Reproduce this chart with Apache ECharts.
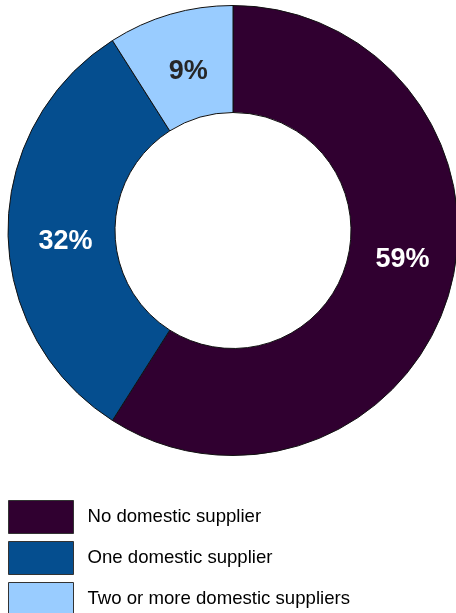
<!DOCTYPE html>
<html>
<head>
<meta charset="utf-8">
<script src="https://cdn.jsdelivr.net/npm/echarts@6/dist/echarts.min.js"></script>
<style>html,body{margin:0;padding:0;background:#fff;}#c{width:456px;height:613px;}</style>
</head>
<body>
<div id="c"></div>
<script>
var categories = ['No domestic supplier', 'One domestic supplier', 'Two or more domestic suppliers'];
var values = [59, 32, 9];
var colors = ['#300030', '#054E8F', '#99CCFF'];
var labelColors = ['#ffffff', '#ffffff', '#262626'];

var labelOffsets = [[2, -20], [7, 11], [4, 9]];
var legendTops = [500, 541, 582];

var chart = echarts.init(document.getElementById('c'), null, {renderer: 'canvas'});
var data = categories.map(function (name, i) {
  return {
    name: name,
    value: values[i],
    itemStyle: {color: colors[i]},
    label: {color: labelColors[i], offset: labelOffsets[i]}
  };
});
var legends = categories.map(function (name, i) {
  return {
    orient: 'vertical',
    left: 8,
    top: legendTops[i],
    padding: 0,
    itemWidth: 65,
    itemHeight: 33,
    icon: 'rect',
    selectedMode: false,
    itemStyle: {borderColor: '#333', borderWidth: 1},
    textStyle: {fontFamily: 'Liberation Sans, Arial', fontSize: 18.6, color: '#000', padding: [0, 0, 0, 9]},
    data: [name]
  };
});
chart.setOption({
  animation: false,
  legend: legends,
  series: [{
    type: 'pie',
    center: [233, 230.5],
    radius: [118, 225],
    startAngle: 90,
    clockwise: true,
    avoidLabelOverlap: false,
    itemStyle: {borderColor: '#111', borderWidth: 1},
    label: {
      show: true,
      position: 'inside',
      formatter: '{c}%',
      fontFamily: 'Liberation Sans, Arial',
      fontWeight: 'bold',
      fontSize: 27
    },
    labelLine: {show: false},
    emphasis: {disabled: true},
    data: data
  }]
});
</script>
</body>
</html>
